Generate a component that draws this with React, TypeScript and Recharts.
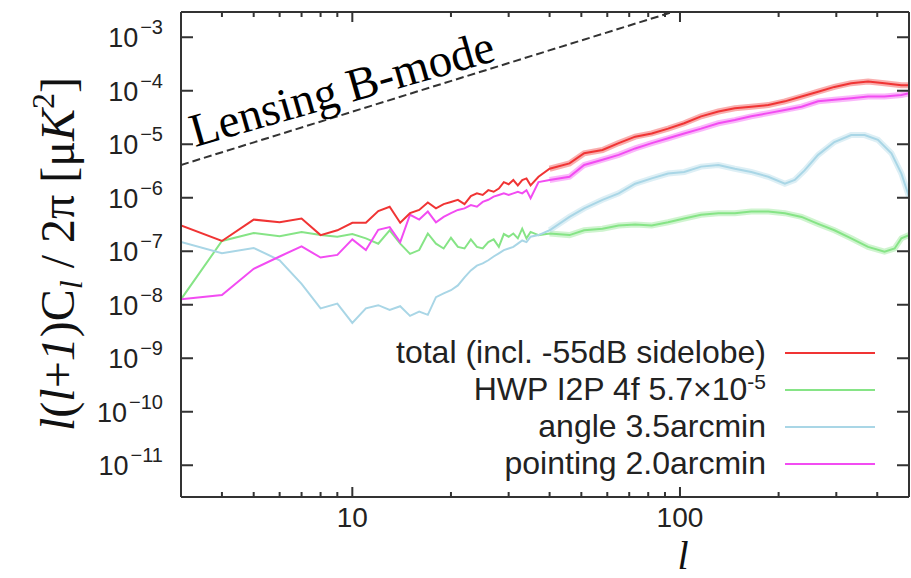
import React from 'react';
import { LineChart, Line, XAxis, YAxis } from 'recharts';

// multipoles: integer l at low l, then a thinned grid along the noisy high-l part
const ELL_LOW = [3, 4, 5, 6, 7, 8, 9, 10, 11, 12, 13, 14, 15, 16, 17, 18, 19, 20, 21, 22, 23, 24, 25, 26, 27, 28, 29, 30, 31, 32, 33, 34, 35, 37];
const ELL_HIGH = [40, 46, 51, 58, 65, 73, 82, 92, 103, 116, 131, 147, 165, 186, 209, 235, 264, 296, 333, 375, 421, 474, 500];
const ELL_HWP_HIGH = [40, 46, 51, 58, 65, 73, 82, 92, 103, 116, 131, 147, 165, 186, 209, 235, 264, 296, 333, 375, 421, 452, 474, 500];
const ELL_ANGLE_HIGH = [40, 46, 51, 58, 65, 73, 82, 92, 103, 116, 131, 147, 165, 186, 209, 224, 240, 264, 296, 333, 366, 402, 442, 474, 500];

// log10 of l(l+1)C_l/2pi [uK^2]
const TOTAL_EXP = [
  -6.52, -6.81, -6.41, -6.46, -6.39, -6.7, -6.61, -6.47, -6.47, -6.25,
  -6.17, -6.47, -6.29, -6.23, -6.09, -6.2, -6.12, -6.08, -6.04, -6.12,
  -5.97, -5.92, -5.95, -5.86, -5.89, -5.83, -5.71, -5.75, -5.67, -5.77,
  -5.67, -5.64, -5.77, -5.61,
  -5.46, -5.36, -5.17, -5.11, -4.98, -4.86, -4.8, -4.71, -4.61, -4.48,
  -4.39, -4.33, -4.3, -4.27, -4.2, -4.11, -4.02, -3.93, -3.86, -3.83,
  -3.86, -3.9, -3.9,
];
const POINTING_EXP = [
  -7.9, -7.82, -7.33, -7.1, -6.91, -7.12, -7.07, -6.78, -6.98, -6.6,
  -6.55, -6.83, -6.32, -6.41, -6.26, -6.46, -6.36, -6.29, -6.23, -6.2,
  -6.14, -6.17, -6.08, -6.04, -5.98, -5.95, -5.92, -5.95, -5.92, -5.89,
  -5.92, -5.86, -6.01, -5.71,
  -5.67, -5.61, -5.39, -5.29, -5.2, -5.08, -4.98, -4.89, -4.8, -4.71,
  -4.61, -4.55, -4.48, -4.42, -4.36, -4.3, -4.2, -4.17, -4.14, -4.11,
  -4.11, -4.08, -4.05,
];
const HWP_EXP = [
  -7.9, -6.81, -6.66, -6.72, -6.64, -6.7, -6.73, -6.68, -6.76, -6.86,
  -6.61, -6.86, -7.05, -6.98, -6.67, -6.86, -6.95, -6.75, -6.92, -6.95,
  -6.78, -6.92, -6.95, -6.83, -6.78, -6.92, -6.68, -6.73, -6.67, -6.76,
  -6.58, -6.76, -6.64, -6.7,
  -6.67, -6.7, -6.61, -6.58, -6.52, -6.5, -6.52, -6.46, -6.39, -6.32,
  -6.29, -6.29, -6.26, -6.26, -6.29, -6.36, -6.49, -6.61, -6.76, -6.92,
  -7.01, -6.95, -6.76, -6.7,
];
const ANGLE_EXP = [
  -6.83, -7.04, -6.94, -7.17, -7.61, -8.07, -7.98, -8.34, -8.07, -8.01,
  -8.1, -8.03, -8.21, -8.13, -8.19, -7.86, -7.79, -7.73, -7.64, -7.49,
  -7.36, -7.27, -7.23, -7.17, -7.1, -7.04, -6.98, -6.95, -6.92, -6.86,
  -6.8, -6.83, -6.73, -6.7,
  -6.61, -6.36, -6.2, -6.04, -5.92, -5.74, -5.64, -5.55, -5.52, -5.42,
  -5.39, -5.46, -5.52, -5.61, -5.74,
  -5.67, -5.49, -5.2, -4.96, -4.83, -4.83, -4.92, -5.17, -5.55, -5.98,
];
const LENS_ELL = [3, 95];
const LENS_EXP = [-5.39, -2.53];

const X_TICKS = [4, 5, 6, 7, 8, 9, 10, 20, 30, 40, 50, 60, 70, 80, 90, 100, 200, 300, 400];
const Y_TICKS = [1e-3, 1e-4, 1e-5, 1e-6, 1e-7, 1e-8, 1e-9, 1e-10, 1e-11];
const X_DOMAIN = [3, 500];
const Y_DOMAIN = [Math.pow(10, -11.595), Math.pow(10, -2.53)];

const SANS = '"Liberation Sans", Arial, Helvetica, sans-serif';
const SERIF = '"Liberation Serif", "Times New Roman", serif';
const AXIS = '#333';

// plot box: left 181, right 909, top 12, bottom 497
const PLOT_W = 728;
const PLOT_H = 485;

const toRows = (ells: number[], exps: number[]) => ells.map((l, i) => ({ l, v: Math.pow(10, exps[i]) }));

const totalData = toRows([...ELL_LOW, ...ELL_HIGH], TOTAL_EXP);
const pointingData = toRows([...ELL_LOW, ...ELL_HIGH], POINTING_EXP);
const hwpData = toRows([...ELL_LOW, ...ELL_HWP_HIGH], HWP_EXP);
const angleData = toRows([...ELL_LOW, ...ELL_ANGLE_HIGH], ANGLE_EXP);
const lensData = toRows(LENS_ELL, LENS_EXP);

const SERIES = [
  { name: 'hwp', data: hwpData, color: '#86e486' },
  { name: 'angle', data: angleData, color: '#a9d6e6' },
  { name: 'pointing', data: pointingData, color: '#f24cf2' },
  { name: 'total', data: totalData, color: '#f03434' },
];

const isMajor = (v: number) => v === 10 || v === 100;

const BottomTick = (props: any) => {
  const { x, y, payload } = props;
  if (!isMajor(payload.value)) return <g />;
  return (
    <text x={x} y={y + 30} textAnchor="middle" fontSize={28} fill="#222" fontFamily={SANS}>
      {payload.value}
    </text>
  );
};

// top axis draws the inward ticks for both the top and the bottom edge
const TopTick = (props: any) => {
  const { x, y, payload } = props;
  const len = isMajor(payload.value) ? 10 : 5;
  const yb = y + PLOT_H;
  return (
    <path
      d={`M${x},${y}V${y + len}M${x},${yb}V${yb - len}`}
      stroke={AXIS}
      strokeWidth={2}
      fill="none"
    />
  );
};

const LeftTick = (props: any) => {
  const { x, y, payload } = props;
  const exp = Math.round(Math.log10(payload.value));
  return (
    <text x={x - 18} y={y + 10} textAnchor="end" fontSize={27} fill="#222" fontFamily={SANS}>
      10
      <tspan fontSize={20} dx={2} dy={-13}>
        {'\u2212' + Math.abs(exp)}
      </tspan>
    </text>
  );
};

// right axis draws the inward ticks for both the right and the left edge
const RightTick = (props: any) => {
  const { x, y } = props;
  const xl = x - PLOT_W;
  return <path d={`M${x},${y}H${x - 12}M${xl},${y}H${xl + 12}`} stroke={AXIS} strokeWidth={2} fill="none" />;
};

const LEGEND_ROWS = [
  { label: 'total (incl. -55dB sidelobe)', color: '#f03434' },
  { label: 'HWP I2P 4f 5.7×10', sup: '-5', color: '#86e486' },
  { label: 'angle 3.5arcmin', color: '#a9d6e6' },
  { label: 'pointing 2.0arcmin', color: '#f24cf2' },
];

export default function App() {
  return (
    <div style={{ position: 'absolute', left: 0, top: 0, width: 911, height: 578, background: '#fff' }}>
      <LineChart width={911} height={578} margin={{ top: 11, right: 1, bottom: 0, left: 0 }}>
        <XAxis
          xAxisId="b"
          dataKey="l"
          type="number"
          scale="log"
          domain={X_DOMAIN}
          allowDataOverflow
          ticks={X_TICKS}
          interval={0}
          height={81}
          tickSize={0}
          tickMargin={0}
          tickLine={false}
          tick={BottomTick}
          axisLine={{ stroke: AXIS, strokeWidth: 2 }}
        />
        <XAxis
          xAxisId="t"
          orientation="top"
          dataKey="l"
          type="number"
          scale="log"
          domain={X_DOMAIN}
          allowDataOverflow
          ticks={X_TICKS}
          interval={0}
          height={1}
          tickSize={0}
          tickMargin={0}
          tickLine={false}
          tick={TopTick}
          axisLine={{ stroke: AXIS, strokeWidth: 2 }}
        />
        <YAxis
          yAxisId="l"
          type="number"
          scale="log"
          domain={Y_DOMAIN}
          allowDataOverflow
          ticks={Y_TICKS}
          interval={0}
          width={181}
          tickSize={0}
          tickMargin={0}
          tickLine={false}
          tick={LeftTick}
          axisLine={{ stroke: AXIS, strokeWidth: 2 }}
        />
        <YAxis
          yAxisId="r"
          orientation="right"
          type="number"
          scale="log"
          domain={Y_DOMAIN}
          allowDataOverflow
          ticks={Y_TICKS}
          interval={0}
          width={1}
          tickSize={0}
          tickMargin={0}
          tickLine={false}
          tick={RightTick}
          axisLine={{ stroke: AXIS, strokeWidth: 2 }}
        />
        <Line
          xAxisId="t"
          yAxisId="r"
          data={lensData}
          dataKey="v"
          type="linear"
          dot={false}
          stroke="#333"
          strokeWidth={2}
          strokeDasharray="8 4"
          isAnimationActive={false}
        />
        {SERIES.map((s) => (
          <Line
            key={s.name + '-fuzz'}
            xAxisId="b"
            yAxisId="l"
            data={s.data.filter((d) => d.l >= 40)}
            dataKey="v"
            type="linear"
            dot={false}
            stroke={s.color}
            strokeWidth={6}
            strokeOpacity={0.4}
            isAnimationActive={false}
          />
        ))}
        {SERIES.map((s) => (
          <Line
            key={s.name}
            xAxisId="b"
            yAxisId="l"
            data={s.data}
            dataKey="v"
            type="linear"
            dot={false}
            stroke={s.color}
            strokeWidth={2}
            isAnimationActive={false}
          />
        ))}
      </LineChart>
      <svg width={911} height={578} style={{ position: 'absolute', left: 0, top: 0, pointerEvents: 'none' }}>
        <text
          transform="translate(74,254) rotate(-90)"
          textAnchor="middle"
          fontFamily={SERIF}
          fontSize={48}
          fill="#111"
        >
          <tspan fontStyle="italic">l</tspan>
          <tspan>(</tspan>
          <tspan fontStyle="italic">l</tspan>
          <tspan>+</tspan>
          <tspan fontStyle="italic">1</tspan>
          <tspan>)C</tspan>
          <tspan fontStyle="italic" fontSize={32} dy={8}>l</tspan>
          <tspan dy={-8}>{' / 2π [μ'}</tspan>
          <tspan fontStyle="italic">K</tspan>
          <tspan fontSize={32} dy={-20}>2</tspan>
          <tspan dy={20}>]</tspan>
        </text>
        <text x={683} y={569} textAnchor="middle" fontFamily={SERIF} fontStyle="italic" fontSize={40} fill="#111">
          l
        </text>
        <text transform="translate(195,147) rotate(-16)" fontFamily={SERIF} fontSize={47} fill="#000">
          Lensing B-mode
        </text>
        {LEGEND_ROWS.map((r, i) => {
          const y = 353 + i * 37;
          return (
            <g key={r.label}>
              <text x={766} y={y + 10} textAnchor="end" fontFamily={SANS} fontSize={32} fill="#222">
                {r.label}
                {r.sup && (
                  <tspan fontSize={21} dy={-11}>
                    {r.sup}
                  </tspan>
                )}
              </text>
              <line x1={785} y1={y} x2={875} y2={y} stroke={r.color} strokeWidth={2} />
            </g>
          );
        })}
      </svg>
    </div>
  );
}
